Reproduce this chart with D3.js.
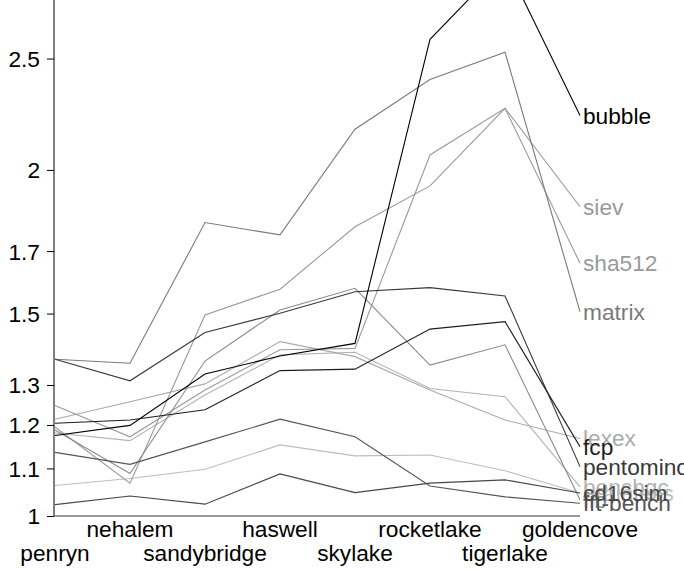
<!DOCTYPE html>
<html>
<head>
<meta charset="utf-8">
<script src="https://cdn.jsdelivr.net/npm/d3@7"></script>
<style>
  html, body { margin: 0; padding: 0; background: #fff; }
  svg { display: block; font-family: "Liberation Sans", Arial, sans-serif; }
</style>
</head>
<body>
<div id="chart"></div>
<script>
'use strict';

const categories = ['penryn', 'nehalem', 'sandybridge', 'haswell', 'skylake', 'rocketlake', 'tigerlake', 'goldencove'];
const tickValues = [1, 1.1, 1.2, 1.3, 1.5, 1.7, 2, 2.5];
const tickLabels = ['1', '1.1', '1.2', '1.3', '1.5', '1.7', '2', '2.5'];

// speedup relative values per benchmark, one entry per category
const brainless = [1.063, 1.078, 1.098, 1.153, 1.128, 1.130, 1.095, 1.047];
const benchgc   = [1.181, 1.163, 1.274, 1.381, 1.388, 1.291, 1.270, 1.060];
const lexex     = [1.214, 1.257, 1.303, 1.418, 1.376, 1.287, 1.212, 1.168];
const siev      = [1.195, 1.068, 1.496, 1.575, 1.785, 1.937, 2.263, 1.858];
const sha512    = [1.248, 1.172, 1.287, 1.395, 1.399, 2.061, 2.263, 1.659];
const fib       = [1.188, 1.089, 1.364, 1.511, 1.578, 1.353, 1.409, 1.033];
const matrix    = [1.369, 1.358, 1.800, 1.756, 2.170, 2.397, 2.532, 1.506];
const fftBench  = [1.136, 1.109, 1.160, 1.214, 1.172, 1.062, 1.039, 1.026];
const cd16sim   = [1.023, 1.041, 1.024, 1.088, 1.048, 1.068, 1.075, 1.047];
const pentomino = [1.369, 1.311, 1.444, 1.501, 1.567, 1.580, 1.554, 1.104];
const fcp       = [1.204, 1.212, 1.237, 1.338, 1.342, 1.454, 1.476, 1.149];
const bubble    = [1.175, 1.199, 1.329, 1.378, 1.413, 2.598, 3.034, 2.230];

const seriesNames  = ['brainless', 'benchgc', 'lexex', 'siev', 'sha512', 'fib', 'matrix', 'fft-bench', 'cd16sim', 'pentomino', 'fcp', 'bubble'];
const seriesValues = [brainless, benchgc, lexex, siev, sha512, fib, matrix, fftBench, cd16sim, pentomino, fcp, bubble];
const seriesGrays  = ['#bdbdbd', '#b3b3b3', '#aaaaaa', '#999999', '#9a9a9a', '#8a8a8a', '#7a7a7a', '#555555', '#474747', '#383838', '#1e1e1e', '#000000'];

const W = 684, H = 570;
const FONT = 22.7;

const svg = d3.select('#chart').append('svg')
  .attr('width', W)
  .attr('height', H);

const x = d3.scalePoint()
  .domain(categories)
  .range([55, 580]);

const y = d3.scaleLog()
  .domain([1, 2.811])
  .range([516, 0]);

// axes
const yAxis = svg.append('g')
  .attr('transform', 'translate(54,0)')
  .call(d3.axisLeft(y).tickValues(tickValues).tickFormat((d, i) => tickLabels[i]).tickSize(7).tickSizeOuter(0).tickPadding(7));
yAxis.select('.domain').attr('stroke', '#000').attr('d', `M0,${y(1)}V0`);
yAxis.selectAll('.tick line').attr('stroke', '#000');
yAxis.selectAll('.tick text')
  .attr('font-size', FONT)
  .attr('font-family', '"Liberation Sans", Arial, sans-serif')
  .attr('fill', '#000')
  .attr('dy', '0.35em');

svg.append('line')
  .attr('x1', 54).attr('x2', x(categories[categories.length - 1]))
  .attr('y1', y(1)).attr('y2', y(1))
  .attr('stroke', '#333');

svg.append('g')
  .selectAll('text')
  .data(categories)
  .join('text')
  .attr('x', d => x(d))
  .attr('y', (d, i) => i % 2 === 1 ? 537 : 561)
  .attr('text-anchor', 'middle')
  .attr('font-size', FONT)
  .attr('fill', '#000')
  .text(d => d);

// lines
const line = d3.line()
  .x((d, i) => x(categories[i]))
  .y(d => y(d));

const plot = svg.append('g');
seriesValues.forEach((vals, k) => {
  plot.append('path')
    .attr('d', line(vals))
    .attr('fill', 'none')
    .attr('stroke', seriesGrays[k])
    .attr('stroke-width', 1.1)
    .attr('stroke-linejoin', 'miter');
});

// end labels
seriesValues.forEach((vals, k) => {
  svg.append('text')
    .attr('x', x(categories[categories.length - 1]) + 3)
    .attr('y', y(vals[vals.length - 1]))
    .attr('dy', '0.35em')
    .attr('font-size', FONT)
    .attr('fill', seriesGrays[k])
    .text(seriesNames[k]);
});
</script>
</body>
</html>
